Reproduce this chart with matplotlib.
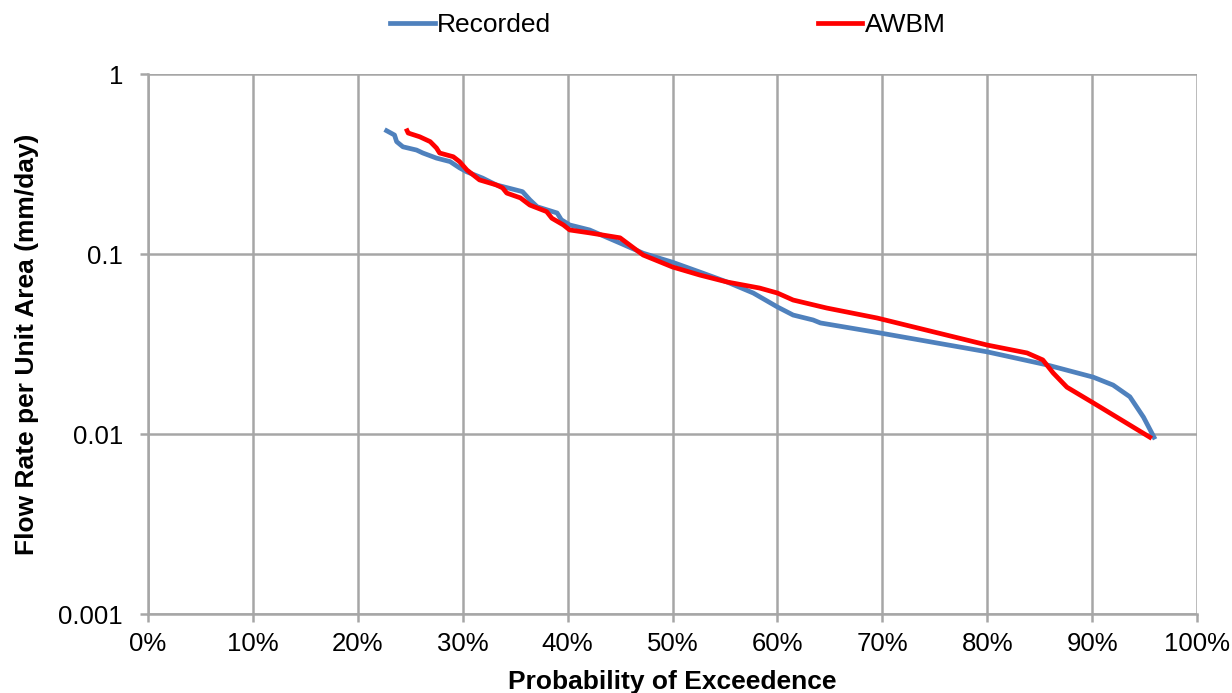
import matplotlib
matplotlib.use("Agg")
import matplotlib.pyplot as plt
from matplotlib.ticker import FixedLocator, NullLocator, FuncFormatter

plt.rcParams['font.family'] = ['Liberation Sans', 'DejaVu Sans']

# Recorded flow duration curve (probability %, flow mm/day)
rec_x = [22.75, 23.5, 23.7, 24.3, 25.6, 26.2, 27.5, 28.8, 29.7, 30.4, 31.9, 33.2,
         35.7, 36.4, 37.1, 39.0, 39.4, 40.2, 42.1, 45.0, 47.2, 50.0, 52.6, 55.2,
         57.7, 60.0, 61.5, 63.4, 64.1, 69.8, 80.0, 85.7, 90.1, 92.0, 93.6, 94.9, 95.9]
rec_y = [0.484, 0.458, 0.421, 0.394, 0.378, 0.364, 0.341, 0.326, 0.301, 0.286, 0.264, 0.242,
         0.222, 0.200, 0.183, 0.169, 0.155, 0.145, 0.136, 0.115, 0.101, 0.090, 0.0794, 0.0699,
         0.0607, 0.0508, 0.0458, 0.0430, 0.0414, 0.0364, 0.0286, 0.0242, 0.0207, 0.0187, 0.0161, 0.0124, 0.0096]

# AWBM modelled flow duration curve
awbm_x = [24.7, 24.8, 25.9, 26.9, 27.5, 27.8, 29.1, 29.7, 30.4, 31.6, 33.2, 33.8,
          34.2, 35.5, 36.4, 38.0, 38.5, 39.6, 40.2, 42.1, 45.0, 47.2, 50.0, 52.6,
          55.2, 58.3, 60.0, 61.5, 64.7, 69.5, 80.0, 83.8, 85.3, 86.3, 87.6, 90.1, 95.5]
awbm_y = [0.484, 0.470, 0.448, 0.421, 0.388, 0.364, 0.347, 0.326, 0.293, 0.258, 0.242, 0.233,
          0.218, 0.205, 0.187, 0.172, 0.158, 0.145, 0.136, 0.131, 0.123, 0.0987, 0.0847, 0.0764,
          0.0699, 0.0647, 0.0607, 0.0555, 0.0501, 0.0441, 0.0312, 0.0282, 0.0258, 0.0218, 0.0182, 0.0149, 0.0096]

x_ticks = [0, 10, 20, 30, 40, 50, 60, 70, 80, 90, 100]
y_ticks = [0.001, 0.01, 0.1, 1]
y_tick_labels = ['0.001', '0.01', '0.1', '1']

fig = plt.figure(figsize=(12.32, 6.93), dpi=100)
ax = fig.add_axes([148/1232, 1-614/693, (1197-148)/1232, (614-74)/693])

ax.plot(rec_x, rec_y, color='#4F81BD', lw=3.4, label='Recorded', solid_joinstyle='round')
ax.plot(awbm_x, awbm_y, color='#FF0000', lw=3.4, label='AWBM', solid_joinstyle='round')

ax.set_yscale('log')
ax.set_xlim(0, 100)
ax.set_ylim(0.001, 1)
ax.xaxis.set_major_locator(FixedLocator(x_ticks))
ax.xaxis.set_major_formatter(FuncFormatter(lambda v, p: f'{int(round(v))}%'))
ax.yaxis.set_major_locator(FixedLocator(y_ticks))
ax.yaxis.set_minor_locator(NullLocator())
ax.set_yticklabels(y_tick_labels)

ax.grid(True, which='major', color='#A6A6A6', lw=1.8)
ax.set_axisbelow(True)
for s in ['top', 'right']:
    ax.spines[s].set_visible(False)
for s in ['left', 'bottom']:
    ax.spines[s].set_color('#A6A6A6')
    ax.spines[s].set_linewidth(1.8)
ax.tick_params(axis='both', colors='#A6A6A6', labelcolor='black', labelsize=18.5,
               length=6, width=1.8, direction='out')
ax.tick_params(axis='x', pad=7)
ax.tick_params(axis='y', pad=12)

ax.set_xlabel('Probability of Exceedence', fontsize=19, fontweight='bold', labelpad=10)
ax.set_ylabel('Flow Rate per Unit Area (mm/day)', fontsize=19, fontweight='bold', labelpad=14)

fig.legend(loc='center', bbox_to_anchor=(0.542, 0.964), ncol=2, frameon=False,
           fontsize=19, handlelength=1.7, handletextpad=0.08, columnspacing=10.1)

fig.savefig('out.png', dpi=100)
